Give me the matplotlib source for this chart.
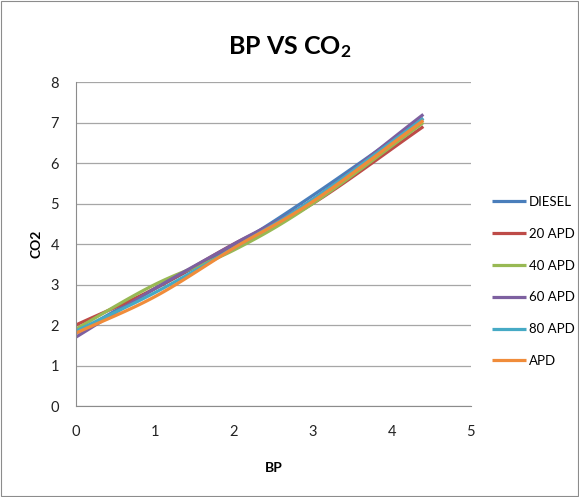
import numpy as np
import matplotlib
matplotlib.use("Agg")
import matplotlib.pyplot as plt
from matplotlib.patches import Rectangle

bp = [0, 1, 2, 3, 4.4]
series_names = ["DIESEL", "20 APD", "40 APD", "60 APD", "80 APD", "APD"]
diesel = [1.8, 2.9, 3.95, 5.2, 7.1]
apd20 = [2.0, 2.9, 4.0, 5.0, 6.9]
apd40 = [1.9, 3.0, 3.85, 5.0, 7.0]
apd60 = [1.7, 2.9, 4.0, 5.1, 7.2]
apd80 = [1.85, 2.8, 3.9, 5.1, 7.1]
apd = [1.8, 2.7, 3.9, 5.05, 7.05]
colors = ["#4A7EBB", "#BE4B48", "#98B954", "#7D60A0", "#46AAC5", "#F08C3A"]

plt.rcParams['font.family'] = ['Lato', 'DejaVu Sans']
plt.rcParams['mathtext.default'] = 'regular'


def smooth(x, y, n=30):
    x = np.asarray(x, float)
    y = np.asarray(y, float)
    px = np.concatenate([[2 * x[0] - x[1]], x, [2 * x[-1] - x[-2]]])
    py = np.concatenate([[2 * y[0] - y[1]], y, [2 * y[-1] - y[-2]]])
    ox, oy = [], []
    for i in range(1, len(px) - 2):
        t = np.linspace(0, 1, n, endpoint=(i == len(px) - 3))
        p0 = np.array([px[i], py[i]])
        p3 = np.array([px[i + 1], py[i + 1]])
        p1 = p0 + (np.array([px[i + 1], py[i + 1]]) - np.array([px[i - 1], py[i - 1]])) / 6
        p2 = p3 - (np.array([px[i + 2], py[i + 2]]) - np.array([px[i], py[i]])) / 6
        b = ((1 - t) ** 3)[:, None] * p0 + (3 * (1 - t) ** 2 * t)[:, None] * p1 + \
            (3 * (1 - t) * t ** 2)[:, None] * p2 + (t ** 3)[:, None] * p3
        ox.extend(b[:, 0])
        oy.extend(b[:, 1])
    return np.array(ox), np.array(oy)


fig = plt.figure(figsize=(5.79, 4.97), dpi=100)
fig.patches.append(Rectangle((0.002, 0.002), 0.996, 0.996, transform=fig.transFigure,
                             fill=False, edgecolor="#8C8C8C", linewidth=0.8))
ax = fig.add_axes([0.131, 0.183, 0.682, 0.652])

for name, vals, c in zip(series_names, [diesel, apd20, apd40, apd60, apd80, apd], colors):
    sx, sy = smooth(bp, vals)
    ax.plot(sx, sy, color=c, linewidth=2.3, label=name, solid_capstyle="butt")

ax.set_xlim(0, 5)
ax.set_ylim(0, 8)
ax.set_xticks(range(0, 6))
ax.set_yticks(range(0, 9))
ax.yaxis.grid(True, color="#A6A6A6", linewidth=0.9)
ax.set_axisbelow(True)
for s in ["top", "right"]:
    ax.spines[s].set_visible(False)
for s in ["left", "bottom"]:
    ax.spines[s].set_color("#8C8C8C")
ax.tick_params(length=0, labelsize=10.5, colors="#222222", pad=14)
ax.tick_params(axis="y", pad=12)

ax.set_xlabel("BP", fontsize=10, fontweight="bold", labelpad=16)
ax.set_ylabel("CO2", fontsize=10, fontweight="bold", labelpad=6)
fig.text(0.5, 0.905, "BP VS CO$_2$", ha="center", va="center", fontsize=18, fontweight="bold")

leg = fig.legend(loc="upper left", bbox_to_anchor=(492 / 579, 1 - 196 / 497), frameon=False,
                 fontsize=9.5, handlelength=2.6, handletextpad=0.2, labelspacing=1.5,
                 borderaxespad=0, borderpad=0)

fig.savefig("out.png", dpi=100)
